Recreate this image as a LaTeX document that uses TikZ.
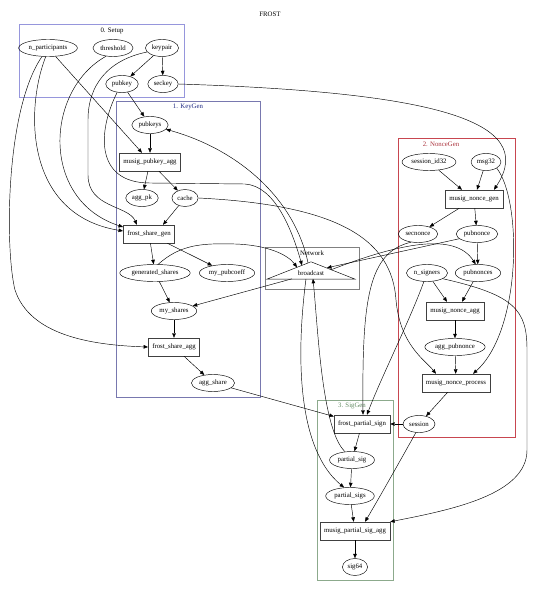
\documentclass[tikz,border=0pt]{standalone}
\usepackage{fontspec}
\setmainfont{Liberation Serif}
\usetikzlibrary{positioning,arrows.meta,shapes.geometric}
\definecolor{setupc}{RGB}{150,150,220}
\definecolor{keygenc}{RGB}{120,120,175}
\definecolor{keygentxt}{RGB}{30,40,130}
\definecolor{noncec}{RGB}{200,70,80}
\definecolor{noncetxt}{RGB}{170,50,60}
\definecolor{sigc}{RGB}{140,170,140}
\definecolor{sigtxt}{RGB}{100,140,100}

\begin{document}
\begin{tikzpicture}[x=1pt,y=-1pt,font=\fontsize{6.8}{8}\selectfont,
    var/.style={draw,ellipse,line width=0.45pt,inner xsep=1.5pt,inner ysep=0pt,minimum height=17pt},
    fn/.style={draw=black!75,rectangle,line width=0.45pt,inner xsep=4pt,minimum height=18pt},
    flow/.style={-{Triangle[length=4.5pt,width=3.6pt]},line width=0.45pt},
    clus/.style={line width=0.6pt}]
        \useasboundingbox (0,0) rectangle (540,596);
        \node (title) at (270,14) {FROST};
        \draw[clus,setupc] (19,24) rectangle (184,97);
        \node (lsetup) at (112,31) {0. Setup};
        \draw[clus,keygenc] (116,101) rectangle (260,397);
        \node[keygentxt] (lkeygen) at (188,107) {1. KeyGen};
        \draw[clus,noncec] (398,138) rectangle (515,437);
        \node[noncetxt] (lnonce) at (441,144) {2. NonceGen};
        \draw[clus,sigc] (317,400) rectangle (393,580);
        \node[sigtxt] (lsig) at (352,406) {3. SigGen};
        \draw[clus,gray] (265,247) rectangle (359,289);
        \node (lnet) at (312,253) {Network};
        % setup
        \node[var] (np) at (48,48) {n\_participants};
        \node[var] (thr) at (113,48) {threshold};
        \node[var] (keypair) at (162,48) {keypair};
        \node[var] (pubkey) at (122,84) {pubkey};
        \node[var] (seckey) at (163,84) {seckey};
        % keygen
        \node[var] (pubkeys) at (150,125) {pubkeys};
        \node[fn] (pkagg) at (150,162) {musig\_pubkey\_agg};
        \node[var] (aggpk) at (142,198) {agg\_pk};
        \node[var] (cache) at (185,198) {cache};
        \node[fn] (sharegen) at (149,234) {frost\_share\_gen};
        \node[var] (genshares) at (155,273) {generated\_shares};
        \node[var] (pubcoeff) at (227,273) {my\_pubcoeff};
        \node[var] (myshares) at (174,311) {my\_shares};
        \node[fn] (shareagg) at (174,347) {frost\_share\_agg};
        \node[var] (aggshare) at (213,383) {agg\_share};
        % network
        \node[inner sep=0pt,minimum width=88pt,minimum height=17pt] (bc) at (311,270.5) {};
        \draw[line width=0.45pt] (bc.south west) -- (bc.south east) -- (bc.north) -- cycle;
        \node (bctext) at (311,273) {broadcast};
        % noncegen
        \node[var] (sid) at (429,162) {session\_id32};
        \node[var] (msg) at (486,162) {msg32};
        \node[fn] (noncegen) at (474,199) {musig\_nonce\_gen};
        \node[var] (secnonce) at (418,234) {secnonce};
        \node[var] (pubnonce) at (477,234) {pubnonce};
        \node[var] (nsigners) at (427,273) {n\_signers};
        \node[var] (pubnonces) at (478,273) {pubnonces};
        \node[fn] (nonceagg) at (455,311) {musig\_nonce\_agg};
        \node[var] (aggnonce) at (455,347) {agg\_pubnonce};
        \node[fn] (nonceproc) at (456,383) {musig\_nonce\_process};
        \node[var] (session) at (419,424) {session};
        % siggen
        \node[fn] (psign) at (362,424) {frost\_partial\_sign};
        \node[var] (psig) at (352,460) {partial\_sig};
        \node[var] (psigs) at (350,496) {partial\_sigs};
        \node[fn] (sigagg) at (355,531) {musig\_partial\_sig\_agg};
        \node[var] (sig64) at (355,567) {sig64};

        \draw[flow] (keypair) -- (pubkey);
        \draw[flow] (keypair) -- (seckey);
        \draw[flow] (pubkey) -- (pubkeys);
        \draw[flow] (np) -- ([xshift=-8pt]pkagg.north);
        \draw[flow] (pubkeys) -- (pkagg);
        \draw[flow] (pkagg) -- (aggpk);
        \draw[flow] (pkagg) -- (cache);
        \draw[flow] (cache) -- ([xshift=14pt]sharegen.north);
        \draw[flow] (np.-105) .. controls (25,110) and (25,215) .. ([yshift=3pt]sharegen.west);
        \draw[flow] (thr.-130) .. controls (45,90) and (40,200) .. ([yshift=7pt]sharegen.west);
        \draw[flow] (keypair.-165) .. controls (108,60) and (88,85) .. (88,120) -- (88,175) .. controls (88,208) and (128,205) .. ([xshift=-12pt]sharegen.north);
        \draw[flow] (np.-125) .. controls (5,110) and (5,250) .. (15,290) .. controls (30,335) and (90,345) .. (shareagg.west);
        \draw[flow] (sharegen) -- (genshares);
        \draw[flow] (sharegen) -- (pubcoeff);
        \draw[flow] (genshares) -- (myshares);
        \draw[flow] (myshares) -- (shareagg);
        \draw[flow] (shareagg) -- (aggshare);
        \draw[flow] (pubkey.-120) .. controls (98,130) and (94,183) .. (150,183) -- (245,184) .. controls (275,186) and (292,230) .. ([shift={(-9,3.5)}]bc.north);
        \draw[flow] ([shift={(-3,1)}]bc.north) .. controls (295,200) and (240,150) .. (pubkeys.-15);
        \draw[flow] (genshares.70) .. controls (180,245) and (200,243) .. (235,244) .. controls (268,245) and (288,255) .. ([shift={(-14,5.5)}]bc.north);
        \draw[flow] ([shift={(-19,17)}]bc.north) -- (myshares.15);
        \draw[flow] (aggshare.-15) -- (psign.165);
        % noncegen
        \draw[flow] (seckey.east) .. controls (430,92) and (540,120) .. ([xshift=20pt]noncegen.north);
        \draw[flow] (sid) -- ([xshift=-12pt]noncegen.north);
        \draw[flow] (msg) -- ([xshift=3pt]noncegen.north);
        \draw[flow] (noncegen) -- (secnonce);
        \draw[flow] (noncegen) -- (pubnonce);
        \draw[flow] (pubnonce) -- (pubnonces);
        \draw[flow] (pubnonce.-165) -- ([shift={(16,6)}]bc.north);
        \draw[flow] ([shift={(20,8)}]bc.north) .. controls (400,243) and (455,232) .. (pubnonces.105);
        \draw[flow] (nsigners) -- ([xshift=-8pt]nonceagg.north);
        \draw[flow] (pubnonces) -- ([xshift=7pt]nonceagg.north);
        \draw[flow] (nonceagg) -- (aggnonce);
        \draw[flow] (aggnonce) -- (nonceproc);
        \draw[flow] (msg.-30) .. controls (522,200) and (522,330) .. ([xshift=17pt]nonceproc.north);
        \draw[flow] (cache.east) .. controls (340,205) and (392,240) .. (396,300) .. controls (400,345) and (425,360) .. ([xshift=-20pt]nonceproc.north);
        \draw[flow] (nonceproc) -- (session);
        % siggen
        \draw[flow] (session) -- (psign);
        \draw[flow] (secnonce.-130) .. controls (368,252) and (362,300) .. ([xshift=1pt]psign.north);
        \draw[flow] (nsigners.-110) .. controls (410,320) and (380,380) .. ([xshift=5pt]psign.north);
        \draw[flow] (psign) -- (psig);
        \draw[flow] (psig) -- (psigs);
        \draw[flow] (psig.130) .. controls (322,430) and (318,330) .. ([shift={(2,17)}]bc.north);
        \draw[flow] ([shift={(-5,17)}]bc.north) .. controls (298,340) and (293,445) .. (psigs.125);
        \draw[flow] (psigs) -- (sigagg);
        \draw[flow] (session.-110) .. controls (395,470) and (375,505) .. ([xshift=10pt]sigagg.north);
        \draw[flow] (nsigners.-20) .. controls (515,295) and (527,310) .. (527,350) -- (527,450) .. controls (527,495) and (450,510) .. (sigagg.north east);
        \draw[flow] (sigagg) -- (sig64);
\end{tikzpicture}
\end{document}
